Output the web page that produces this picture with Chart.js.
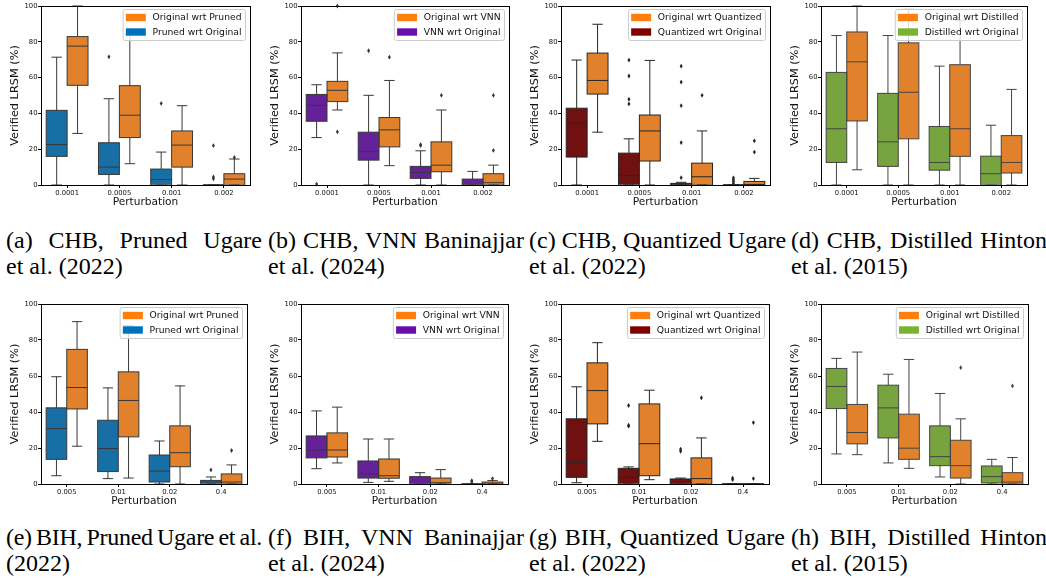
<!DOCTYPE html>
<html>
<head>
<meta charset="utf-8">
<script src="https://cdn.jsdelivr.net/npm/chart.js@4"></script>
<style>
  body { margin: 0; background: #fff; width: 1046px; height: 579px; position: relative; overflow: hidden; }
  canvas { position: absolute; }
  .cap { position: absolute; width: 256px; font: 24px "Liberation Serif", "Times New Roman", serif; line-height: 26px; color: #000; }
  .cap .j { text-align: justify; text-align-last: justify; white-space: nowrap; }
</style>
</head>
<body>
<div id="wrap"></div>

<div class="cap" style="left:6px;top:227px"><div class="j">(a) CHB, Pruned Ugare</div><div>et al. (2022)</div></div>
<div class="cap" style="left:268px;top:227px"><div class="j">(b) CHB, VNN Baninajjar</div><div>et al. (2024)</div></div>
<div class="cap" style="left:529px;top:227px"><div class="j">(c) CHB, Quantized Ugare</div><div>et al. (2022)</div></div>
<div class="cap" style="left:791px;top:227px"><div class="j">(d) CHB, Distilled Hinton</div><div>et al. (2015)</div></div>
<div class="cap" style="left:6px;top:524px"><div class="j" style="word-spacing:-4px;letter-spacing:-0.3px">(e) BIH, Pruned Ugare et al.</div><div>(2022)</div></div>
<div class="cap" style="left:268px;top:524px"><div class="j">(f) BIH, VNN Baninajjar</div><div>et al. (2024)</div></div>
<div class="cap" style="left:529px;top:524px"><div class="j">(g) BIH, Quantized Ugare</div><div>et al. (2022)</div></div>
<div class="cap" style="left:791px;top:524px"><div class="j">(h) BIH, Distilled Hinton</div><div>et al. (2015)</div></div>

<script>
// ---- tick labels ----
const chbTicks = ["0.0001", "0.0005", "0.001", "0.002"];
const bihTicks = ["0.005", "0.01", "0.02", "0.4"];
const yTicks = [0, 20, 40, 60, 80, 100];

// ---- box stats per category: [low whisker, q1, median, q3, high whisker] ----
// left box = "<model> wrt Original", right box = "Original wrt <model>"
const aLeft  = [[0, 16, 22.6, 41.7, 71.4], [0, 5.9, 10, 23.6, 48.2], [0, 0, 3, 8.9, 18.4], [0, 0, 0, 0, 0]];
const aRight = [[28.8, 55.7, 77.6, 82.9, 100], [11.9, 26.5, 39, 55.5, 84], [0, 10, 22.3, 30.2, 44.3], [0, 0, 3.3, 6.3, 14.5]];
const aLeftOut  = [[], [71.6], [45.6], [22, 4.5, 3.5]];
const aRightOut = [[], [], [], [15.4]];

const bLeft  = [[26.5, 35.6, 44.5, 50.6, 56], [0, 13.9, 18.7, 29.5, 50.1], [0, 3.7, 7, 10.4, 19.1], [0, 0, 0, 3.3, 7.6]];
const bRight = [[41.9, 46.6, 52.9, 57.9, 73.8], [10.8, 21.3, 30.8, 37.7, 58.4], [0, 7.4, 11.1, 24.1, 41.9], [0, 0, 1.3, 6.3, 11.1]];
const bLeftOut  = [[0.5], [75], [22.6, 22], []];
const bRightOut = [[29.7, 100], [71.4], [50.1], [19.3, 50.1]];

const cLeft  = [[0, 15.6, 34.5, 42.9, 69.8], [0, 0, 5.2, 17.8, 25.8], [0, 0, 0, 0.9, 1.5], [0, 0, 0, 0, 0]];
const cRight = [[29.5, 50.8, 58.4, 73.7, 89.8], [0, 13.4, 30.2, 39.1, 69.6], [0, 0, 4.6, 12.2, 30.2], [0, 0, 0.3, 2, 3.7]];
const cLeftOut  = [[], [69.8, 60.9, 47.9, 45.3], [66.4, 57.5, 44.3, 23.7, 4.1], [4, 3, 2, 1]];
const cRightOut = [[], [], [50.1], [18.4, 24.7]];

const dLeft  = [[0, 12.6, 31.4, 62.9, 83.5], [0, 10.4, 24.1, 51.2, 83.5], [0, 8.3, 12.6, 32.7, 66.4], [0, 0, 6.3, 16.1, 33.4]];
const dRight = [[8.5, 35.8, 68.8, 85.5, 100], [0, 25.8, 51.8, 79.4, 98.1], [0, 16, 31.4, 67.2, 92], [0, 6.7, 12.6, 27.6, 53.4]];
const dLeftOut  = [[], [], [], []];
const dRightOut = [[], [], [], []];

const eLeft  = [[4.6, 13.7, 30.8, 42.3, 59.6], [3, 6.9, 19.7, 35.4, 53.4], [0, 1.1, 7.2, 16.1, 23.9], [0, 0, 1.1, 2, 3.9]];
const eRight = [[21, 41.7, 53.6, 74.8, 90.2], [3.3, 26.2, 46.4, 62.3, 88], [0, 9.6, 17.4, 32.3, 54.5], [0, 0, 1.1, 5.6, 10.6]];
const eLeftOut  = [[], [], [], [7.8]];
const eRightOut = [[], [], [], [18.6]];

const fLeft  = [[8.5, 14.5, 18.9, 26.7, 40.6], [0.9, 3.3, 5.6, 12.8, 25], [0, 0, 0, 4.1, 6.3], [0, 0, 0, 0, 0]];
const fRight = [[11.7, 15, 18.9, 28.4, 42.7], [1.5, 3.2, 4.6, 13.9, 25], [0, 0.6, 0.6, 3.3, 8], [0, 0, 0, 1.1, 1.9]];
const fLeftOut  = [[], [], [], [1.9, 1.1]];
const fRightOut = [[], [], [], [3]];

const gLeft  = [[0.7, 3.7, 11.9, 36.2, 54], [0, 0, 3.7, 8.7, 9.5], [0, 0, 0, 2.8, 3.3], [0, 0, 0, 0, 0]];
const gRight = [[23.7, 33.4, 51.9, 67.3, 78.5], [2.4, 4.6, 22.4, 44.5, 52.1], [0, 0, 3, 14.5, 25.6], [0, 0, 0, 0, 0]];
const gLeftOut  = [[], [43.6, 32.7, 32.1], [19.3, 18.2], [3.3, 2.4]];
const gRightOut = [[], [], [47.9], [34.1, 3]];

const hLeft  = [[16.7, 41.9, 54.2, 64.2, 69.8], [11.7, 25.6, 42.3, 54.9, 61], [3.9, 10.2, 15.2, 32.3, 50.3], [0, 0.6, 4.1, 10, 13.7]];
const hRight = [[16.3, 22.3, 28.6, 44.2, 73.3], [8.7, 13.7, 19.9, 38.8, 69.2], [0, 3.3, 10.2, 24.3, 36.2], [0, 0, 1.1, 6.3, 14.7]];
const hLeftOut  = [[], [], [], []];
const hRightOut = [[], [], [64.6], [54.5]];

// colours: [box fill, legend patch]
const ORANGE = ["#e1812c", "#ff7f0e"];
const BLUE   = ["#186fa5", "#0072bd"];
const PURPLE = ["#652199", "#6a0dad"];
const MAROON = ["#701010", "#800000"];
const GREEN  = ["#78a43f", "#7ab32f"];

// panel table: plot area in page pixels (L, R, T, B)
const panels = [
  { L: 41,  R: 250,  T: 6,   B: 185, ticks: chbTicks, model: "Pruned",    col: BLUE,   line: "#383838", left: aLeft, right: aRight, lo: aLeftOut, ro: aRightOut },
  { L: 301, R: 509,  T: 6,   B: 185, ticks: chbTicks, model: "VNN",       col: PURPLE, line: "#383838", left: bLeft, right: bRight, lo: bLeftOut, ro: bRightOut },
  { L: 561, R: 770,  T: 6,   B: 185, ticks: chbTicks, model: "Quantized", col: MAROON, line: "#262626", left: cLeft, right: cRight, lo: cLeftOut, ro: cRightOut },
  { L: 821, R: 1027, T: 6,   B: 185, ticks: chbTicks, model: "Distilled", col: GREEN,  line: "#444444", left: dLeft, right: dRight, lo: dLeftOut, ro: dRightOut },
  { L: 41,  R: 247,  T: 304, B: 484, ticks: bihTicks, model: "Pruned",    col: BLUE,   line: "#383838", left: eLeft, right: eRight, lo: eLeftOut, ro: eRightOut },
  { L: 301, R: 508,  T: 304, B: 484, ticks: bihTicks, model: "VNN",       col: PURPLE, line: "#383838", left: fLeft, right: fRight, lo: fLeftOut, ro: fRightOut },
  { L: 561, R: 769,  T: 304, B: 484, ticks: bihTicks, model: "Quantized", col: MAROON, line: "#262626", left: gLeft, right: gRight, lo: gLeftOut, ro: gRightOut },
  { L: 821, R: 1028, T: 304, B: 484, ticks: bihTicks, model: "Distilled", col: GREEN,  line: "#444444", left: hLeft, right: hRight, lo: hLeftOut, ro: hRightOut }
];

const YAXIS_W = 41, XAXIS_H = 24, PAD_T = 6, PAD_R = 8, PAD_B = 4;

// whiskers, medians, caps, outliers + frame + legend
const boxPlugin = {
  id: "boxes",
  afterDatasetsDraw(chart) {
    const { ctx, scales: { y } } = chart;
    const line = chart.options.plugins.boxes.line;
    const py = v => y.getPixelForValue(v);
    ctx.save();
    ctx.strokeStyle = line;
    ctx.fillStyle = line;
    ctx.lineWidth = 1;
    chart.data.datasets.forEach((ds, di) => {
      const meta = chart.getDatasetMeta(di);
      meta.data.forEach((bar, i) => {
        const s = ds.stats[i];
        const x = bar.x, hw = bar.width / 2;
        const seg = (x1, y1, x2, y2) => { ctx.beginPath(); ctx.moveTo(x1, y1); ctx.lineTo(x2, y2); ctx.stroke(); };
        // box outline
        ctx.strokeRect(x - hw, py(s[3]), bar.width, py(s[1]) - py(s[3]));
        // whiskers and caps
        seg(x, py(s[1]), x, py(s[0]));
        seg(x, py(s[3]), x, py(s[4]));
        seg(x - hw / 2, py(s[0]), x + hw / 2, py(s[0]));
        seg(x - hw / 2, py(s[4]), x + hw / 2, py(s[4]));
        // median
        seg(x - hw, py(s[2]), x + hw, py(s[2]));
        // outliers (diamonds)
        ds.outliers[i].forEach(v => {
          const yy = py(v);
          ctx.beginPath();
          ctx.moveTo(x, yy - 2.4); ctx.lineTo(x + 1.5, yy); ctx.lineTo(x, yy + 2.4); ctx.lineTo(x - 1.5, yy);
          ctx.closePath(); ctx.fill();
        });
      });
    });
    ctx.restore();
  },
  afterDraw(chart) {
    const { ctx, chartArea: a } = chart;
    ctx.save();
    // full frame
    ctx.strokeStyle = "#000";
    ctx.lineWidth = 1;
    ctx.strokeRect(Math.round(a.left) + 0.5, Math.round(a.top) + 0.5, Math.round(a.right - a.left), Math.round(a.bottom - a.top));
    // legend, orange first
    const items = chart.data.datasets.slice().reverse();
    ctx.font = '9.2px "DejaVu Sans"';
    const tw = Math.max(...items.map(d => ctx.measureText(d.label).width));
    const w = 2.7 + 20 + 6.7 + tw + 4, h = 31;
    const lx = a.right - 4.5 - w, ly = a.top + 3.5;
    ctx.beginPath();
    ctx.roundRect(lx, ly, w, h, 2);
    ctx.fillStyle = "rgba(255,255,255,0.8)";
    ctx.fill();
    ctx.strokeStyle = "#cccccc";
    ctx.stroke();
    items.forEach((d, k) => {
      const cy = ly + 8 + k * 14.5;
      ctx.fillStyle = d.legendColor;
      ctx.fillRect(lx + 2.7, cy - 3.7, 20, 7.4);
      ctx.fillStyle = "#111";
      ctx.textBaseline = "middle";
      ctx.fillText(d.label, lx + 2.7 + 20 + 6.7, cy + 0.5);
    });
    ctx.restore();
  }
};

const wrap = document.getElementById("wrap");
panels.forEach(p => {
  const cv = document.createElement("canvas");
  const W = p.R - p.L + YAXIS_W + PAD_R;
  const H = p.B - p.T + PAD_T + XAXIS_H + PAD_B;
  cv.width = W; cv.height = H;
  cv.style.left = (p.L - YAXIS_W) + "px";
  cv.style.top = (p.T - PAD_T) + "px";
  cv.style.width = W + "px"; cv.style.height = H + "px";
  wrap.appendChild(cv);

  const mk = (stats, outs, col, label) => ({
    label,
    data: stats.map(s => [s[1], s[3]]),
    stats, outliers: outs,
    backgroundColor: col[0],
    legendColor: col[1],
    borderWidth: 0,
    categoryPercentage: 0.8,
    barPercentage: 1.0
  });

  new Chart(cv, {
    type: "bar",
    data: {
      labels: p.ticks,
      datasets: [
        mk(p.left, p.lo, p.col, p.model + " wrt Original"),
        mk(p.right, p.ro, ORANGE, "Original wrt " + p.model)
      ]
    },
    options: {
      responsive: false,
      devicePixelRatio: 1,
      animation: false,
      layout: { padding: { top: PAD_T, right: PAD_R, bottom: PAD_B, left: 0 } },
      plugins: {
        legend: { display: false },
        tooltip: { enabled: false },
        boxes: { line: p.line }
      },
      scales: {
        x: {
          offset: true,
          grid: { display: true, drawOnChartArea: false, offset: false, color: "#000", tickLength: 3 },
          border: { display: true, color: "#000", width: 1 },
          ticks: { color: "#111", font: { family: "DejaVu Sans", size: 6.8 }, padding: 1.5, maxRotation: 0 },
          title: { display: true, text: "Perturbation", color: "#111", font: { family: "DejaVu Sans", size: 10.6 }, padding: { top: 0, bottom: 0 } },
          afterFit: s => { s.height = XAXIS_H; }
        },
        y: {
          min: 0, max: 100,
          afterBuildTicks: s => { s.ticks = yTicks.map(v => ({ value: v })); },
          grid: { display: true, drawOnChartArea: false, color: "#000", tickLength: 3 },
          border: { display: true, color: "#000", width: 1 },
          ticks: { color: "#111", font: { family: "DejaVu Sans", size: 6.8 }, padding: 0.5 },
          title: { display: true, text: "Verified LRSM (%)", color: "#111", font: { family: "DejaVu Sans", size: 11.3 }, padding: { top: 8, bottom: 0 } },
          afterFit: s => { s.width = YAXIS_W; }
        }
      }
    },
    plugins: [boxPlugin]
  });
});
</script>
</body>
</html>
